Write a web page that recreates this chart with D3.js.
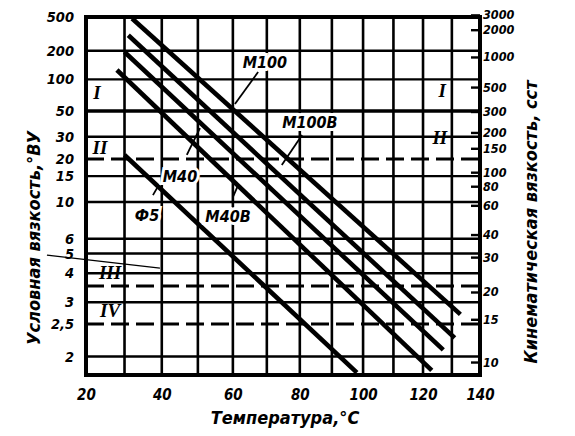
<!DOCTYPE html>
<html>
<head>
<meta charset="utf-8">
<script src="https://cdn.jsdelivr.net/npm/d3@7/dist/d3.min.js"></script>
<style>
  body { margin: 0; background: #fff; }
  text { font-family: "DejaVu Sans Condensed", "DejaVu Sans", sans-serif;
         font-weight: bold; font-style: italic; fill: #000; }
  .axis text { font-size: 15px; }
  .axis.left text { font-size: 14.5px; }
  .axis.right text { font-size: 12.5px; }
  .roman { font-family: "Liberation Serif", serif; font-size: 19px; }
  .oil { font-size: 16px; }
  .title { font-size: 18px; }
</style>
</head>
<body>
<div id="chart"></div>
<script>
// temperature, °C
var xTicks = [20, 40, 60, 80, 100, 120, 140];
var xGrid = [30, 40, 50, 60, 70, 80, 90, 100, 110, 120, 130];
// conditional viscosity, °ВУ (left axis)
var vuTicks = [500, 200, 100, 50, 30, 20, 15, 10, 6, 5, 4, 3, 2.5, 2];
var vuGrid = [200, 100, 30, 15, 10, 6, 5, 4, 3, 2];
// kinematic viscosity, cSt (right axis, printed slightly offset from the left one)
var cstTicks = [3000, 2000, 1000, 500, 300, 200, 150, 100, 80, 60, 40, 30, 20, 15, 10];
var cstExtent = [8.93, 2828];

// oils: [temperature °C, viscosity cSt] at both ends of each line
var oilNames = ["М100", "М100В", "М40", "М40В", "Ф5"];
var oilStart = [[32, 3500], [31, 2200], [30, 1420], [28, 910], [30, 157]];
var oilEnd = [[133, 17.4], [131, 13.7], [127, 12.2], [123, 10.1], [98, 9.9]];
var oilLabelAt = [[69.4, 1102], [83.1, 292], [45.0, 109], [58.6, 58], [36.0, 59.6]];
var oilLeaderFrom = [[67.4, 867], [80.7, 227], [46.9, 157], [60.0, 78], [37.6, 80.5]];
var oilLeaderTo = [[60.6, 423], [74.5, 131.5], [50.6, 259], [61.5, 94], [38.7, 89.9]];

// levels I-IV, °ВУ
var levelNames = ["I", "II", "III", "IV"];
var levelValues = [50, 20, 3.5, 2.5];
var levelLabelLeft = [[22.8, 548], [23.6, 181], [26.2, 28.0], [26.2, 18.2]];
var levelLabelRight = [[126.6, 573], [125.8, 218]];
var pointer = [[10.2, 34.6], [39.5, 29.4]];

var margin = { top: 17, left: 86, bottom: 61, right: 95 };
var width = 575 - margin.left - margin.right;
var height = 436 - margin.top - margin.bottom;

var svg = d3.select("#chart").append("svg")
    .attr("width", 575)
    .attr("height", 436)
    .append("g")
    .attr("transform", "translate(" + margin.left + "," + margin.top + ")");

// log of absolute temperature, log log of viscosity
function LL(v) { return Math.log10(Math.log10(v + 0.7)); }
function vu2cst(e) { return 7.31 * e - 6.31 / e; }

var xK = d3.scaleLog().domain([20 + 273.15, 140 + 273.15]).range([0, width]);
var yLL = d3.scaleLinear().domain([LL(9.7), LL(vu2cst(500))]).range([height, 0]);
var yR = d3.scaleLinear().domain([LL(cstExtent[0]), LL(cstExtent[1])]).range([height, 0]);
function x(t) { return xK(t + 273.15); }
function y(v) { return yLL(LL(v)); }

// grid
svg.selectAll(".vgrid").data(xGrid).enter().append("line")
    .attr("x1", function (d) { return x(d); }).attr("x2", function (d) { return x(d); })
    .attr("y1", 0).attr("y2", height)
    .attr("stroke", "#000").attr("stroke-width", 2.6);

svg.selectAll(".hgrid").data(vuGrid).enter().append("line")
    .attr("x1", 0).attr("x2", width)
    .attr("y1", function (d) { return y(vu2cst(d)); })
    .attr("y2", function (d) { return y(vu2cst(d)); })
    .attr("stroke", "#000").attr("stroke-width", 2.4);

// levels
svg.selectAll(".level").data(levelValues).enter().append("line")
    .attr("x1", 0).attr("x2", width)
    .attr("y1", function (d) { return y(vu2cst(d)); })
    .attr("y2", function (d) { return y(vu2cst(d)); })
    .attr("stroke", "#000")
    .attr("stroke-width", function (d, i) { return i === 0 ? 3.6 : 3; })
    .attr("stroke-dasharray", function (d, i) { return i === 0 ? null : "18,7"; });

svg.selectAll(".levL").data(levelLabelLeft).enter().append("text")
    .attr("class", "roman")
    .attr("x", function (d) { return x(d[0]); })
    .attr("y", function (d) { return y(d[1]); })
    .attr("text-anchor", "middle").attr("dominant-baseline", "central")
    .text(function (d, i) { return levelNames[i]; });

svg.selectAll(".levR").data(levelLabelRight).enter().append("text")
    .attr("class", "roman")
    .attr("x", function (d) { return x(d[0]); })
    .attr("y", function (d) { return y(d[1]); })
    .attr("text-anchor", "middle").attr("dominant-baseline", "central")
    .text(function (d, i) { return levelNames[i]; });

svg.append("line")
    .attr("x1", x(pointer[0][0])).attr("y1", y(pointer[0][1]))
    .attr("x2", x(pointer[1][0])).attr("y2", y(pointer[1][1]))
    .attr("stroke", "#000").attr("stroke-width", 1.4);

// oil lines
svg.selectAll(".oilline").data(oilNames).enter().append("line")
    .attr("x1", function (d, i) { return x(oilStart[i][0]); })
    .attr("y1", function (d, i) { return y(oilStart[i][1]); })
    .attr("x2", function (d, i) { return x(oilEnd[i][0]); })
    .attr("y2", function (d, i) { return y(oilEnd[i][1]); })
    .attr("stroke", "#000").attr("stroke-width", 4.6);

svg.selectAll(".leader").data(oilNames).enter().append("line")
    .attr("x1", function (d, i) { return x(oilLeaderFrom[i][0]); })
    .attr("y1", function (d, i) { return y(oilLeaderFrom[i][1]); })
    .attr("x2", function (d, i) { return x(oilLeaderTo[i][0]); })
    .attr("y2", function (d, i) { return y(oilLeaderTo[i][1]); })
    .attr("stroke", "#000").attr("stroke-width", 1.8);

// white backing behind labels (they break the grid in the original)
var labels = svg.selectAll(".oillabel").data(oilNames).enter().append("g");
labels.append("text")
    .attr("class", "oil")
    .attr("x", function (d, i) { return x(oilLabelAt[i][0]); })
    .attr("y", function (d, i) { return y(oilLabelAt[i][1]); })
    .attr("text-anchor", "middle").attr("dominant-baseline", "central")
    .attr("stroke", "#fff").attr("stroke-width", 6)
    .style("fill", "#fff")
    .text(function (d) { return d; });
labels.append("text")
    .attr("class", "oil")
    .attr("x", function (d, i) { return x(oilLabelAt[i][0]); })
    .attr("y", function (d, i) { return y(oilLabelAt[i][1]); })
    .attr("text-anchor", "middle").attr("dominant-baseline", "central")
    .text(function (d) { return d; });

// frame
svg.append("rect")
    .attr("width", width).attr("height", height)
    .attr("fill", "none").attr("stroke", "#000").attr("stroke-width", 4);

// axes
var xAxis = d3.axisBottom(xK)
    .tickValues(xTicks.map(function (d) { return d + 273.15; }))
    .tickFormat(function (d) { return Math.round(d - 273.15); })
    .tickSize(0).tickPadding(14);
svg.append("g").attr("class", "axis")
    .attr("transform", "translate(0," + height + ")")
    .call(xAxis);

var leftAxis = d3.axisLeft(yLL)
    .tickValues(vuTicks.map(function (d) { return LL(vu2cst(d)); }))
    .tickFormat(function (d, i) { return String(vuTicks[i]).replace(".", ","); })
    .tickSize(0).tickPadding(12);
svg.append("g").attr("class", "axis left").call(leftAxis);

var rightAxis = d3.axisRight(yR)
    .tickValues(cstTicks.map(LL))
    .tickFormat(function (d, i) { return cstTicks[i]; })
    .tickSizeInner(-9).tickSizeOuter(0).tickPadding(3);
svg.append("g").attr("class", "axis right")
    .attr("transform", "translate(" + width + ",0)")
    .call(rightAxis);

svg.selectAll(".axis .domain").remove();
svg.selectAll(".axis line").attr("stroke", "#000").attr("stroke-width", 2.4);

// titles
svg.append("text").attr("class", "title")
    .attr("x", 199).attr("y", height + 49)
    .attr("text-anchor", "middle")
    .text("Температура,°С");

svg.append("text").attr("class", "title")
    .attr("transform", "translate(-46," + (height / 2 + 42) + ") rotate(-90)")
    .attr("text-anchor", "middle")
    .text("Условная вязкость,°ВУ");

svg.append("text").attr("class", "title")
    .attr("transform", "translate(" + (width + 57) + "," + (height / 2 + 26) + ") rotate(-90)")
    .attr("text-anchor", "middle")
    .text("Кинематическая вязкость, сст");
</script>
</body>
</html>
